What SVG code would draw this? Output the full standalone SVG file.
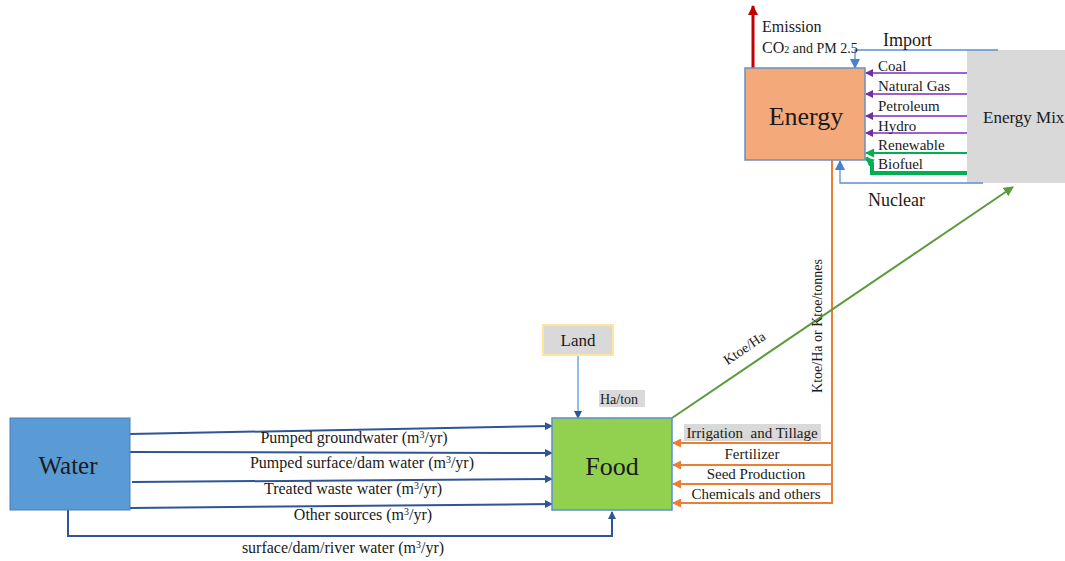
<svg xmlns="http://www.w3.org/2000/svg" width="1065" height="561" viewBox="0 0 1065 561" font-family="'Liberation Serif', 'DejaVu Serif', serif">
<style>
text{font-family:'Liberation Serif','DejaVu Serif',serif;fill:#1a1a1a}
.lbl{font-size:16px}
.src{font-size:15px}
.ol{font-size:15px}
.w{stroke:#2F5597;stroke-width:2;fill:none}
.o{stroke:#ED7D31;stroke-width:2;fill:none}
.p{stroke:#9E5FD0;stroke-width:2;fill:none}
.b{stroke:#5B8FD6;stroke-width:1.3;fill:none}
</style>
<defs>
<marker id="aw" markerWidth="8" markerHeight="8" refX="7" refY="4" orient="auto" markerUnits="userSpaceOnUse"><path d="M0,0 L8,4 L0,8 z" fill="#2F5597"/></marker>
<marker id="ao" markerWidth="9" markerHeight="9" refX="8" refY="4.5" orient="auto" markerUnits="userSpaceOnUse"><path d="M0,0 L9,4.5 L0,9 z" fill="#ED7D31"/></marker>
<marker id="ap" markerWidth="8" markerHeight="8" refX="7" refY="4" orient="auto" markerUnits="userSpaceOnUse"><path d="M0,0 L8,4 L0,8 z" fill="#7030A0"/></marker>
<marker id="ag" markerWidth="9" markerHeight="9" refX="8" refY="4.5" orient="auto" markerUnits="userSpaceOnUse"><path d="M0,0 L9,4.5 L0,9 z" fill="#00B050"/></marker>
<marker id="agr" markerWidth="10" markerHeight="10" refX="9" refY="5" orient="auto" markerUnits="userSpaceOnUse"><path d="M0,0 L10,5 L0,10 z" fill="#5B9B3A"/></marker>
<marker id="ab" markerWidth="10" markerHeight="10" refX="9" refY="5" orient="auto" markerUnits="userSpaceOnUse"><path d="M0,0 L10,5 L0,10 z" fill="#4A7FD0"/></marker>
<marker id="ar" markerWidth="10" markerHeight="10" refX="9" refY="5" orient="auto" markerUnits="userSpaceOnUse"><path d="M0,0 L10,5 L0,10 z" fill="#C00000"/></marker>
</defs>

<g id="energymix">
<rect x="967" y="50" width="98" height="133" fill="#D9D9D9"/>
<text x="983" y="123" font-size="17">Energy Mix</text>
</g>

<g id="connectors">
<line class="w" x1="130" y1="434" x2="552" y2="426" marker-end="url(#aw)"/>
<line class="w" x1="130" y1="452" x2="552" y2="453" marker-end="url(#aw)"/>
<line class="w" x1="132" y1="482" x2="552" y2="479" marker-end="url(#aw)"/>
<line class="w" x1="130" y1="508" x2="552" y2="504" marker-end="url(#aw)"/>
<path class="w" d="M68,510 V536 H612 V512" marker-end="url(#aw)"/>
<line x1="578" y1="355" x2="578" y2="418" stroke="#5B9BD5" stroke-width="1.3" marker-end="url(#aw)"/>
<line class="o" x1="832" y1="160" x2="832" y2="504"/>
<line class="o" x1="832" y1="443" x2="673" y2="443" marker-end="url(#ao)"/>
<line class="o" x1="832" y1="465" x2="673" y2="465" marker-end="url(#ao)"/>
<line class="o" x1="832" y1="484" x2="673" y2="484" marker-end="url(#ao)"/>
<line class="o" x1="832" y1="503" x2="673" y2="503" marker-end="url(#ao)"/>
<line x1="672" y1="418" x2="1013" y2="187" stroke="#5B9B3A" stroke-width="2" marker-end="url(#agr)"/>
<line x1="753" y1="68" x2="753" y2="6" stroke="#C00000" stroke-width="3" marker-end="url(#ar)"/>
<path class="b" d="M998,50 H855 V68" marker-end="url(#ab)"/>
<path class="b" d="M983,183 H840 V161" marker-end="url(#ab)"/>
<line class="p" x1="967" y1="73" x2="866" y2="73" marker-end="url(#ap)"/>
<line class="p" x1="967" y1="94" x2="866" y2="94" marker-end="url(#ap)"/>
<line class="p" x1="967" y1="116" x2="866" y2="116" marker-end="url(#ap)"/>
<line class="p" x1="967" y1="133" x2="866" y2="133" marker-end="url(#ap)"/>
<line x1="967" y1="153" x2="866" y2="153" stroke="#00B050" stroke-width="2" marker-end="url(#ag)"/>
<path d="M967,173 H872 V163 L866,158" stroke="#00B050" stroke-width="4" fill="none" marker-end="url(#ag)"/>
</g>

<g id="water">
<rect x="10" y="418" width="120" height="92" fill="#5B9BD5" stroke="#4A7FB5" stroke-width="1"/>
<text x="68" y="474" font-size="25" text-anchor="middle">Water</text>
</g>

<g id="food">
<rect x="552" y="418" width="120" height="92" fill="#92D050" stroke="#5B8FD6" stroke-width="1.5"/>
<text x="612" y="475" font-size="26" text-anchor="middle">Food</text>
</g>

<g id="land">
<rect x="543" y="325" width="70" height="30" fill="#D9D9D9" stroke="#FFE699" stroke-width="2"/>
<text x="578" y="346" font-size="17" text-anchor="middle">Land</text>
</g>

<g id="energy">
<rect x="745" y="68" width="120" height="92" fill="#F4A97A" stroke="#6A8FC0" stroke-width="1.5"/>
<text x="806" y="125" font-size="26" text-anchor="middle">Energy</text>
</g>

<g id="labels">
<text x="762" y="32" font-size="16">Emission</text>
<text x="762" y="53" font-size="16">CO<tspan font-size="10">2</tspan><tspan font-size="14"> and PM 2.5</tspan></text>
<text x="883" y="46" font-size="18">Import</text>
<text x="868" y="206" font-size="18">Nuclear</text>
<text class="src" x="878" y="71">Coal</text>
<text class="src" x="878" y="91">Natural Gas</text>
<text class="src" x="878" y="111">Petroleum</text>
<text class="src" x="878" y="131">Hydro</text>
<text class="src" x="878" y="150">Renewable</text>
<text class="src" x="878" y="169">Biofuel</text>

<rect x="599" y="390" width="46" height="17" fill="#D9D9D9"/>
<text x="600" y="404" font-size="14">Ha/ton</text>
<text x="0" y="0" font-size="14" transform="translate(747,352) rotate(-34.2)" text-anchor="middle">Ktoe/Ha</text>
<text x="0" y="0" font-size="14" transform="translate(822,326) rotate(-90)" text-anchor="middle">Ktoe/Ha or Ktoe/tonnes</text>

<rect x="684" y="424" width="137" height="17" fill="#D9D9D9"/>
<text class="ol" x="752" y="438" text-anchor="middle">Irrigation&#160; and Tillage</text>
<text class="ol" x="752" y="459" text-anchor="middle">Fertilizer</text>
<text class="ol" x="756" y="479" text-anchor="middle">Seed Production</text>
<text class="ol" x="756" y="499" text-anchor="middle">Chemicals and others</text>

<text class="lbl" x="354" y="443" text-anchor="middle">Pumped groundwater (m<tspan font-size="10" dy="-5">3</tspan><tspan dy="5">/yr)</tspan></text>
<text class="lbl" x="362" y="468" text-anchor="middle">Pumped surface/dam water (m<tspan font-size="10" dy="-5">3</tspan><tspan dy="5">/yr)</tspan></text>
<text class="lbl" x="353" y="494" text-anchor="middle">Treated waste water (m<tspan font-size="10" dy="-5">3</tspan><tspan dy="5">/yr)</tspan></text>
<text class="lbl" x="363" y="520" text-anchor="middle">Other sources (m<tspan font-size="10" dy="-5">3</tspan><tspan dy="5">/yr)</tspan></text>
<text class="lbl" x="343" y="553" text-anchor="middle">surface/dam/river water (m<tspan font-size="10" dy="-5">3</tspan><tspan dy="5">/yr)</tspan></text>
</g>
</svg>
